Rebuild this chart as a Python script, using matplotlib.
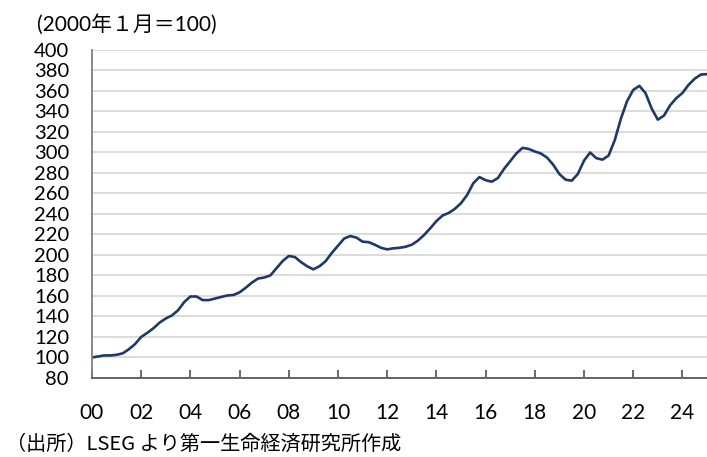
import matplotlib
matplotlib.use("Agg")
import matplotlib.pyplot as plt
import numpy as np

plt.rcParams["font.family"] = ["Lato", "Noto Sans CJK JP", "DejaVu Sans"]

# quarterly readings, 2000Q1 .. 2025Q1 (index, Jan 2000 = 100)
years = np.arange(2000.0, 2025.01, 0.25)
index_vals = [
    100, 101, 102, 102,          # 2000
    102.6, 104, 108, 113,        # 2001
    120, 124, 128.5, 134,        # 2002
    138, 141, 146, 154,          # 2003
    159.5, 159.5, 156, 156,      # 2004
    157.5, 159, 160.5, 161,      # 2005
    163.5, 168, 173, 177,        # 2006
    178, 180, 187, 194,          # 2007
    199, 198, 193, 189,          # 2008
    186, 189, 194, 202,          # 2009
    209, 216, 218.5, 217,        # 2010
    213, 212.5, 210, 207,        # 2011
    205.5, 206.5, 207, 208,      # 2012
    210, 214, 219.5, 226,        # 2013
    233, 238.5, 241, 245,        # 2014
    250.5, 258.5, 270, 276,      # 2015
    273, 271.5, 275, 284,        # 2016
    291.5, 299, 304.5, 303.5,    # 2017
    301, 299, 295, 288,          # 2018
    279, 273.5, 272.5, 279,      # 2019
    292, 300, 294.5, 293,        # 2020
    297, 312, 333, 350,          # 2021
    361, 365, 358, 343,          # 2022
    332, 336, 346, 353,          # 2023
    358, 366, 372, 376,          # 2024
    376.5,                       # 2025
]

xtick_years = list(range(2000, 2025, 2))
xtick_labels = [f"{y % 100:02d}" for y in xtick_years]
yticks = list(range(80, 401, 20))

fig = plt.figure(figsize=(7.07, 4.57), dpi=100)
ax = fig.add_axes([0.130, 0.1729, 0.870, 0.7177])

ax.plot(years, index_vals, color="#1f3868", lw=1.9, solid_capstyle="round")

ax.set_xlim(2000, 2025)
ax.set_ylim(80, 400)
ax.set_yticks(yticks)
ax.set_yticklabels([str(v) for v in yticks], fontsize=14.5)
ax.set_xticks(xtick_years)
ax.set_xticklabels(xtick_labels, fontsize=15)

ax.grid(axis="y", color="#d9d9d9", lw=1.3)
ax.set_axisbelow(True)
for s in ["top", "right"]:
    ax.spines[s].set_visible(False)
ax.spines["left"].set_color("#7f7f7f")
ax.spines["left"].set_linewidth(1.3)
ax.spines["bottom"].set_color("#595959")
ax.spines["bottom"].set_linewidth(1.3)

ax.tick_params(axis="y", length=0, pad=16.5)
ax.tick_params(axis="x", direction="in", length=5.5, width=1.1,
               color="#404040", pad=18)

fig.text(0.052, 0.946, "(2000年１月＝100)", fontsize=15, va="center", ha="left")
fig.text(0.008, 0.028, "（出所）LSEG より第一生命経済研究所作成",
         fontsize=14.5, va="center", ha="left",
         family=["Noto Sans CJK JP", "DejaVu Sans"])

fig.savefig("out.png", dpi=100, facecolor="white")
